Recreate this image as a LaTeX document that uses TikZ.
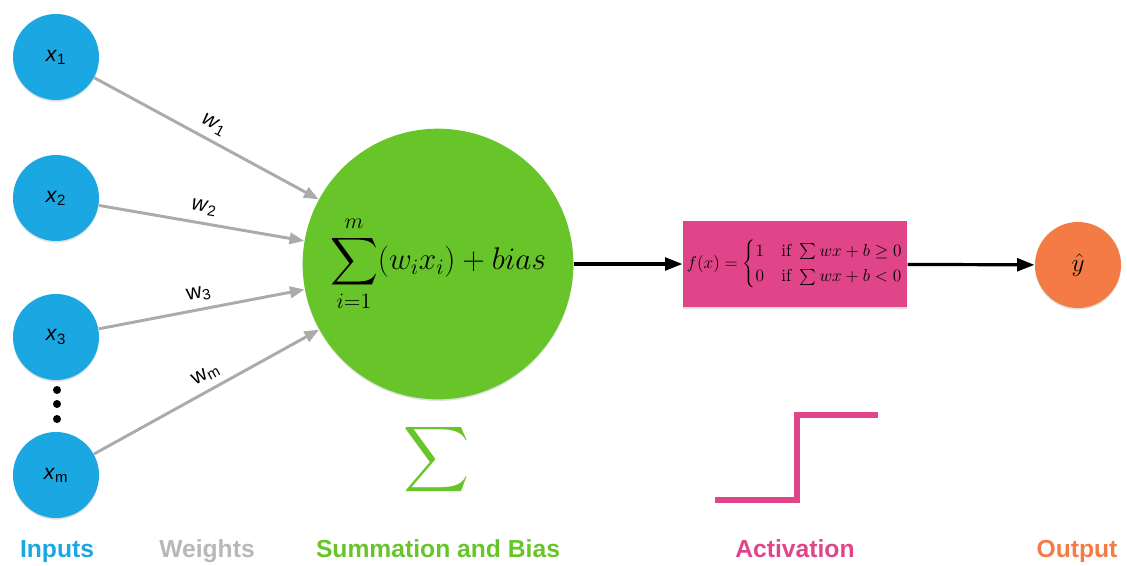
\RequirePackage{fix-cm}
\documentclass[tikz,border=0pt]{standalone}
\usepackage{amsmath}
\usepackage{exscale}
\usepackage{graphicx}
\usepackage{fontspec}
\usetikzlibrary{arrows.meta,shadows,positioning}
\newfontfamily\labelfont{Liberation Sans}
\definecolor{inblue}{HTML}{1BA7E1}
\definecolor{wgray}{HTML}{ABABAB}
\definecolor{sumgreen}{HTML}{67C52A}
\definecolor{actpink}{HTML}{E0458A}
\definecolor{outorange}{HTML}{F47B45}
\tikzset{every picture/.style={line width=0.75pt}}
\tikzset{
  softshadow/.style={drop shadow={opacity=0.25,shadow xshift=0pt,shadow yshift=-1.2pt}},
  inputnode/.style={circle,fill=inblue,minimum size=64.5pt,inner sep=0pt,softshadow,
    font=\labelfont\fontsize{16}{18}\selectfont},
  sumnode/.style={circle,fill=sumgreen,minimum size=203pt,inner sep=0pt,softshadow,
    font=\fontsize{23.5}{27}\selectfont},
  actbox/.style={rectangle,fill=actpink,minimum width=168pt,minimum height=64.5pt,inner sep=2pt,
    softshadow,font=\fontsize{13}{16}\selectfont},
  outnode/.style={circle,fill=outorange,minimum size=64.5pt,inner sep=0pt,softshadow,
    font=\fontsize{19}{22}\selectfont},
  weightedge/.style={draw=wgray,line width=2.2pt,-{Triangle[length=11pt,width=8.5pt]}},
  flowedge/.style={draw=black,line width=2.4pt,-{Triangle[length=13pt,width=9.5pt]}},
  wlabel/.style={sloped,above,inner sep=5pt,font=\labelfont\fontsize{16}{18}\selectfont},
  bottomlabel/.style={anchor=base,font=\labelfont\bfseries\fontsize{18.5}{22}\selectfont},
  stepline/.style={draw=actpink,line width=4pt,line join=miter}
}
\begin{document}
\begin{tikzpicture}[x=0.75pt,y=-0.75pt]
    \useasboundingbox (0,0) rectangle (1127,565);

    % Inputs
    \node[inputnode] (x1) at (56,57) {\textit{x}\textsubscript{1}};
    \node[inputnode] (x2) at (56,198) {\textit{x}\textsubscript{2}};
    \node[inputnode] (x3) at (56,337) {\textit{x}\textsubscript{3}};
    \node[inputnode] (xm) at (56,475) {\textit{x}\textsubscript{m}};
    \foreach \y in {390,404,419}
        \fill (57,\y) circle (3pt);

    % Summation and bias
    \node[sumnode] (sum) at (438,264) {$\displaystyle\sum_{i=1}^{m}(w_ix_i)+bias$};

    % Weights
    \draw[weightedge] (x1) -- node[wlabel] {\textit{w}\textsubscript{1}} (sum);
    \draw[weightedge] (x2) -- node[wlabel] {\textit{w}\textsubscript{2}} (sum);
    \draw[weightedge] (x3) -- node[wlabel] {w\textsubscript{3}} (sum);
    \draw[weightedge] (xm) -- node[wlabel,pos=0.53] {w\textsubscript{m}} (sum);

    % Activation
    \node[actbox] (act) at (795,264)
        {$f(x)=\begin{cases}1 & \text{if } \sum wx+b\geq 0\\ 0 & \text{if } \sum wx+b<0\end{cases}$};

    % Output
    \node[outnode] (out) at (1078,265) {$\hat{y}$};

    \draw[flowedge] (sum) -- (act);
    \draw[flowedge] (act) -- (out);

    % Symbols
    \node[text=sumgreen,inner sep=0pt] (sigma) at (437,460) {\resizebox*{!}{55pt}{$\displaystyle\sum$}};
    \draw[stepline] (715,500) -- (797,500) -- (797,415) -- (878,415);

    % Captions
    \node[bottomlabel,text=inblue] (incap) at (57,557) {Inputs};
    \node[bottomlabel,text=wgray!85] (wcap) at (207,557) {Weights};
    \node[bottomlabel,text=sumgreen] (sumcap) at (438,557) {Summation and Bias};
    \node[bottomlabel,text=actpink] (actcap) at (795,557) {Activation};
    \node[bottomlabel,text=outorange] (outcap) at (1077,557) {Output};
\end{tikzpicture}
\end{document}
